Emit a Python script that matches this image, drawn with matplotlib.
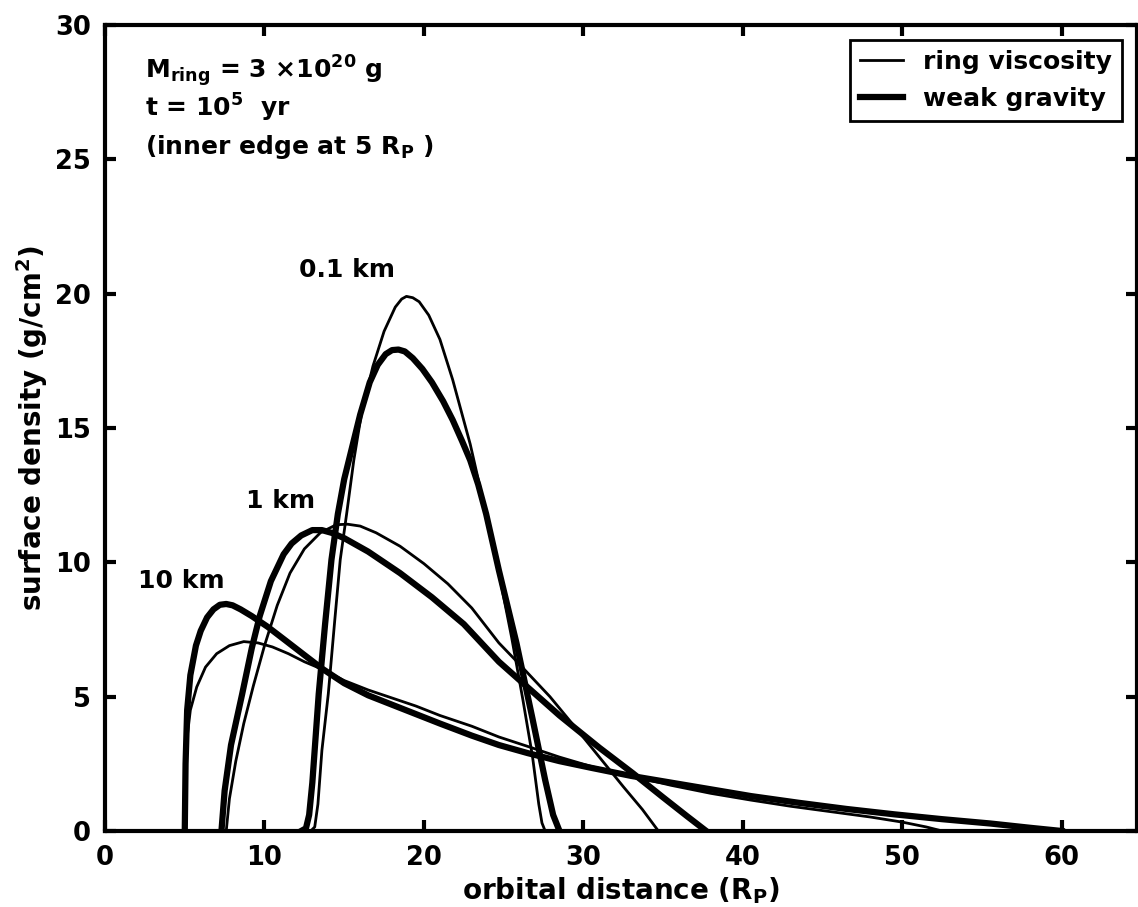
import matplotlib
matplotlib.use('Agg')
import matplotlib.pyplot as plt
import numpy as np

plt.rcParams['font.family'] = 'DejaVu Sans'
plt.rcParams['font.weight'] = 'bold'
plt.rcParams['mathtext.default'] = 'bf'

# 10 km particles
x10_visc = [5.0, 5.05, 5.15, 5.35, 5.75, 6.3, 7.0, 7.8, 8.7, 9.6, 10.5, 11.5, 12.5, 13.7, 15.0, 16.5, 18.0, 19.5,
            21.0, 23.0, 24.7, 26.5, 28.5, 30.5, 33.0, 35.5, 38.0, 40.5, 43.0, 45.5, 48.0, 50.0, 51.5, 52.5]
y10_visc = [0.0, 2.0, 3.5, 4.5, 5.36, 6.1, 6.6, 6.9, 7.05, 7.0, 6.85, 6.6, 6.3, 6.0, 5.6, 5.25, 4.95, 4.65,
            4.3, 3.9, 3.5, 3.15, 2.75, 2.4, 2.05, 1.7, 1.4, 1.15, 0.92, 0.72, 0.52, 0.33, 0.15, 0.0]
x10_grav = [5.0, 5.05, 5.15, 5.35, 5.7, 6.0, 6.4, 6.8, 7.2, 7.6, 8.0, 8.5, 9.2, 10.2, 11.3, 12.5, 13.6, 15.0,
            16.5, 18.0, 19.5, 21.0, 23.0, 24.7, 26.5, 28.5, 30.5, 33.0, 35.5, 38.0, 40.5, 43.5, 46.5, 49.5,
            52.5, 55.5, 58.0, 60.0]
y10_grav = [0.0, 2.5, 4.5, 5.8, 6.9, 7.45, 7.95, 8.25, 8.42, 8.45, 8.4, 8.25, 8.0, 7.6, 7.1, 6.55, 6.05, 5.5,
            5.05, 4.7, 4.35, 4.0, 3.55, 3.2, 2.9, 2.6, 2.35, 2.05, 1.8, 1.55, 1.3, 1.05, 0.82, 0.62,
            0.44, 0.28, 0.12, 0.0]

# 1 km particles
x1_visc = [7.6, 7.8, 8.2, 8.7, 9.3, 10.0, 10.8, 11.6, 12.5, 13.5, 14.5, 15.2, 16.0, 17.0, 18.5, 20.0, 21.5, 23.0,
           24.7, 26.0, 27.9, 29.5, 31.0, 32.5, 33.7, 34.7]
y1_visc = [0.0, 1.2, 2.6, 4.0, 5.4, 6.9, 8.4, 9.6, 10.5, 11.1, 11.4, 11.42, 11.35, 11.1, 10.6, 9.95, 9.2, 8.3,
           7.0, 6.2, 5.0, 3.85, 2.75, 1.65, 0.8, 0.0]
x1_grav = [7.3, 7.5, 7.9, 8.6, 9.2, 9.7, 10.4, 11.2, 11.7, 12.3, 13.0, 13.6, 14.2, 15.0, 16.5, 18.5, 20.5, 22.5,
           24.7, 26.5, 28.5, 31.0, 33.1, 35.0, 36.5, 37.7]
y1_grav = [0.0, 1.5, 3.2, 5.1, 6.8, 8.0, 9.3, 10.3, 10.7, 11.0, 11.2, 11.2, 11.1, 10.9, 10.4, 9.6, 8.7, 7.7,
           6.3, 5.35, 4.3, 3.1, 2.15, 1.25, 0.55, 0.0]

# 0.1 km particles
x01_visc = [12.9, 13.15, 13.35, 13.6, 14.0, 14.4, 14.75, 15.15, 15.6, 16.1, 16.8, 17.5, 18.2, 18.6, 18.9, 19.3,
            19.7, 20.3, 21.0, 21.8, 22.9, 23.9, 24.7, 25.5, 26.2, 26.8, 27.2, 27.4, 27.6]
y01_visc = [0.0, 0.15, 1.0, 3.0, 5.1, 7.8, 10.1, 11.8, 13.8, 15.6, 17.3, 18.6, 19.5, 19.8, 19.9, 19.85,
            19.7, 19.2, 18.3, 16.8, 14.4, 11.8, 9.6, 7.2, 4.9, 2.8, 1.0, 0.3, 0.0]
x01_grav = [12.3, 12.6, 12.8, 13.0, 13.4, 13.8, 14.2, 14.6, 15.0, 15.5, 16.0, 16.6, 17.1, 17.6, 18.0, 18.4,
            18.8, 19.3, 19.9, 20.5, 21.2, 21.8, 22.4, 22.9, 23.4, 23.9, 24.7, 25.8, 26.8, 27.6, 28.1, 28.5]
y01_grav = [0.0, 0.1, 0.6, 1.8, 5.1, 7.7, 10.1, 11.8, 13.1, 14.3, 15.5, 16.7, 17.35, 17.75, 17.9, 17.92,
            17.85, 17.6, 17.2, 16.7, 16.0, 15.3, 14.5, 13.8, 12.9, 11.8, 9.7, 7.0, 4.2, 1.9, 0.6, 0.0]

fig = plt.figure(figsize=(11.38, 9.07), dpi=100)
ax = fig.add_axes([0.0923, 0.0838, 0.9066, 0.8886])

ax.plot(x10_visc, y10_visc, 'k-', lw=2, label='ring viscosity')
ax.plot(x10_grav, y10_grav, 'k-', lw=4.5, label='weak gravity')
ax.plot(x1_visc, y1_visc, 'k-', lw=2)
ax.plot(x1_grav, y1_grav, 'k-', lw=4.5)
ax.plot(x01_visc, y01_visc, 'k-', lw=2)
ax.plot(x01_grav, y01_grav, 'k-', lw=4.5)

ax.set_xlim(0, 64.7)
ax.set_ylim(0, 30)
ax.set_xticks([0, 10, 20, 30, 40, 50, 60])
ax.set_yticks([0, 5, 10, 15, 20, 25, 30])
ax.tick_params(direction='in', length=8, width=3, labelsize=18.5, top=True, right=True, pad=10)
for s in ax.spines.values():
    s.set_linewidth(3)

ax.set_xlabel('orbital distance (R$_\\mathbf{P}$)', fontsize=20, fontweight='bold', labelpad=3)
ax.set_ylabel('surface density (g/cm$^2$)', fontsize=20, fontweight='bold', labelpad=4)

ax.text(2.5, 28.3, 'M$_{ring}$ = 3 $\\times$10$^{20}$ g', fontsize=18, fontweight='bold', va='center')
ax.text(2.5, 26.9, 't = 10$^5$  yr', fontsize=18, fontweight='bold', va='center')
ax.text(2.5, 25.45, '(inner edge at 5 R$_P$ )', fontsize=18, fontweight='bold', va='center')

ax.text(15.2, 20.9, '0.1 km', fontsize=18, fontweight='bold', ha='center', va='center')
ax.text(11.0, 12.3, '1 km', fontsize=18, fontweight='bold', ha='center', va='center')
ax.text(4.8, 9.3, '10 km', fontsize=18, fontweight='bold', ha='center', va='center')

leg = ax.legend(loc='upper right', fontsize=18, fancybox=False, edgecolor='k', handlelength=1.7,
                borderaxespad=0.6, framealpha=1)
leg.get_frame().set_linewidth(2)

fig.savefig('out.png', dpi=100)
